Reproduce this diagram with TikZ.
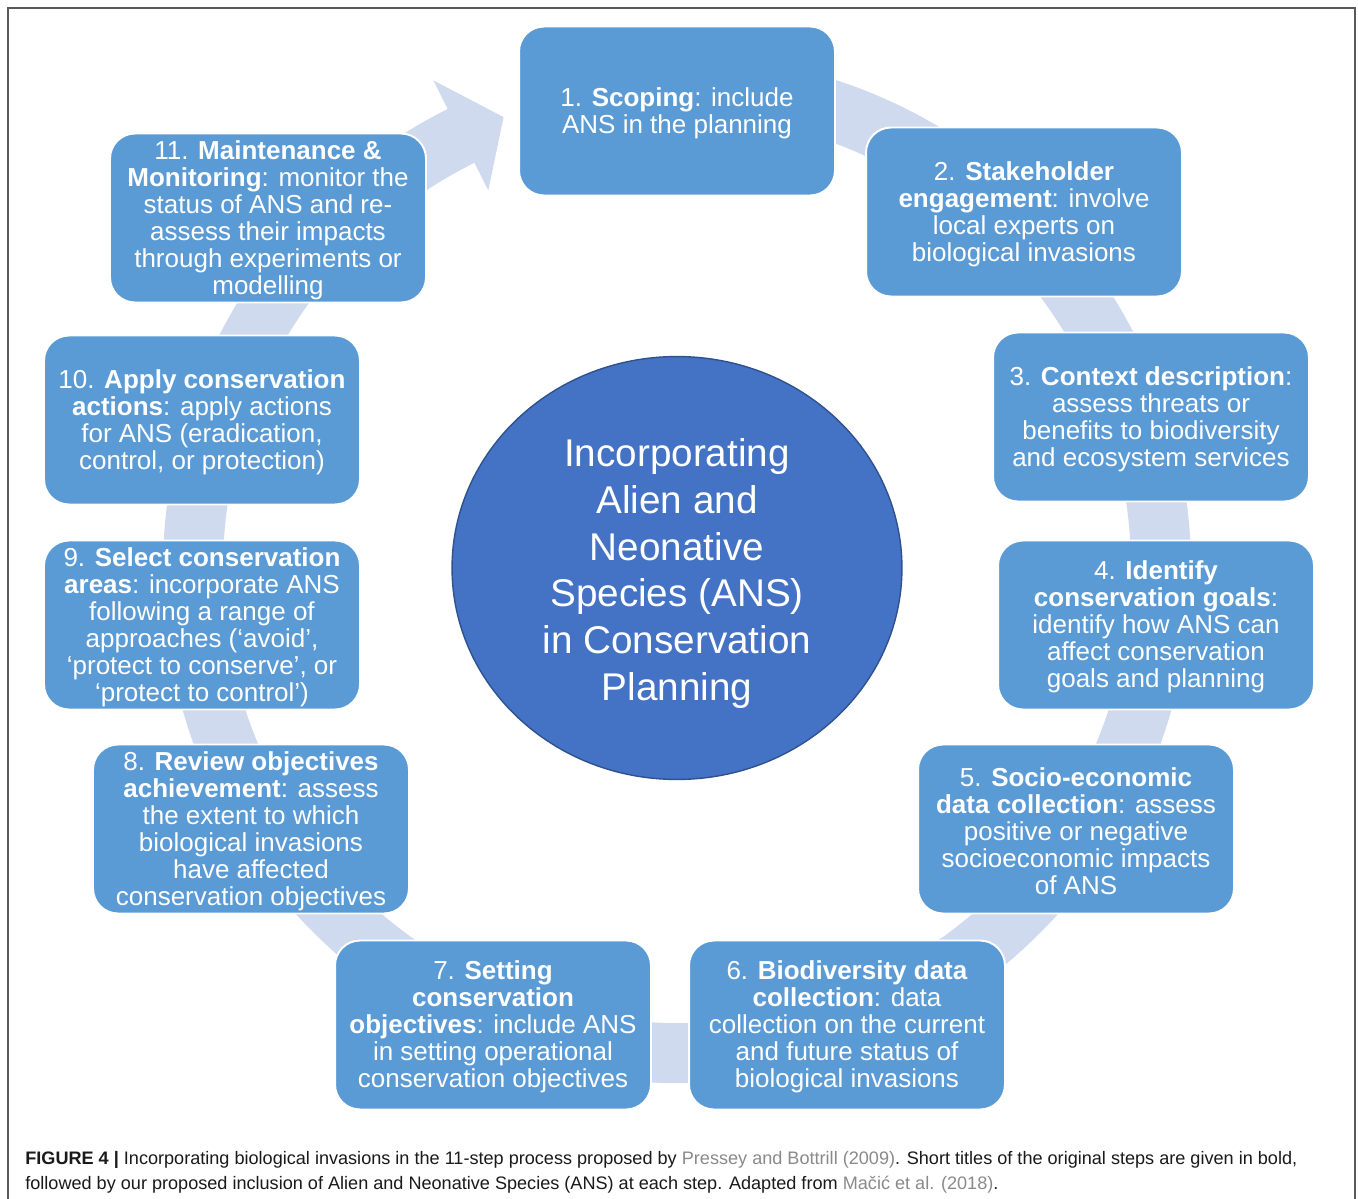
\documentclass[tikz,border=0pt]{standalone}
\usepackage{fontspec}
\setmainfont{Liberation Sans}
\usetikzlibrary{shapes.geometric,calc}
\definecolor{boxblue}{HTML}{5B9BD5}
\definecolor{hubblue}{HTML}{4472C4}
\definecolor{hubedge}{HTML}{2F528F}
\definecolor{ringblue}{HTML}{CFDAEE}
\definecolor{framegray}{HTML}{5A5A5A}
\definecolor{linkgray}{HTML}{8A8A8A}
\definecolor{captext}{HTML}{1A1A1A}
\begin{document}
\begin{tikzpicture}[x=0.02cm,y=0.02cm,
  stepbox/.style={rectangle, rounded corners=0.5cm, fill=boxblue, draw=white,
    line width=1.1pt, minimum width=6.32cm, minimum height=3.38cm, inner sep=0pt},
  steptext/.style={inner sep=0pt, yshift=-0.04cm,
    text=white, align=center, font=\fontsize{14.8}{15.4}\selectfont},
  hub/.style={ellipse, fill=hubblue, draw=hubedge, line width=0.8pt,
    minimum width=9cm, minimum height=8.46cm, inner sep=0pt},
  hubtext/.style={inner sep=0pt, yshift=-0.11cm,
    text=white, align=center, font=\fontsize{22}{26.7}\selectfont},
  captionline/.style={anchor=base west, inner sep=0pt, text=captext,
    font=\fontsize{10.3}{14}\selectfont}]

% page and frame
\useasboundingbox[fill=white] (0,0) rectangle (1358,-1199);
\draw[framegray, line width=1.2pt] (8,-1199) -- (8,-8) -- (1355,-8) -- (1355,-1199);

% circular arrow behind the steps
\coordinate (C) at (677,-569);
\fill[ringblue] ($(C)+(100:514)$) arc[start angle=100, end angle=-243.5, radius=514]
  -- ($(C)+(116.5:546)$) -- ($(C)+(111:484)$) -- ($(C)+(116.5:423)$)
  -- ($(C)+(116.5:454)$) arc[start angle=-243.5, end angle=100, radius=454] -- cycle;

% central hub
\node[hub] (hub) at (677,-568) {};
\node[hubtext] (hubt) at (hub.center) {Incorporating\\Alien and\\Neonative\\Species (ANS)\\in Conservation\\Planning};

% the eleven steps
\node[stepbox] (s1) at (677,-111) {};
\node[stepbox] (s2) at (1024,-212) {};
\node[stepbox] (s3) at (1151,-417) {};
\node[stepbox] (s4) at (1156,-625) {};
\node[stepbox] (s5) at (1076,-829) {};
\node[stepbox] (s6) at (847,-1025) {};
\node[stepbox] (s7) at (493,-1025) {};
\node[stepbox] (s8) at (251,-829) {};
\node[stepbox] (s9) at (202,-625) {};
\node[stepbox] (s10) at (202,-420) {};
\node[stepbox] (s11) at (268,-218) {};

\node[steptext] (t1) at (s1.center) {1. \textbf{Scoping}: include\\ANS in the planning};
\node[steptext] (t2) at (s2.center) {2. \textbf{Stakeholder}\\\textbf{engagement}: involve\\local experts on\\biological invasions};
\node[steptext] (t3) at (s3.center) {3. \textbf{Context description}:\\assess threats or\\benefits to biodiversity\\and ecosystem services};
\node[steptext] (t4) at (s4.center) {4. \textbf{Identify}\\\textbf{conservation goals}:\\identify how ANS can\\affect conservation\\goals and planning};
\node[steptext] (t5) at (s5.center) {5. \textbf{Socio-economic}\\\textbf{data collection}: assess\\positive or negative\\socioeconomic impacts\\of ANS};
\node[steptext] (t6) at (s6.center) {6. \textbf{Biodiversity data}\\\textbf{collection}: data\\collection on the current\\and future status of\\biological invasions};
\node[steptext] (t7) at (s7.center) {7. \textbf{Setting}\\\textbf{conservation}\\\textbf{objectives}: include ANS\\in setting operational\\conservation objectives};
\node[steptext] (t8) at (s8.center) {8. \textbf{Review objectives}\\\textbf{achievement}: assess\\the extent to which\\biological invasions\\have affected\\conservation objectives};
\node[steptext] (t9) at (s9.center) {9. \textbf{Select conservation}\\\textbf{areas}: incorporate ANS\\following a range of\\approaches (‘avoid’,\\‘protect to conserve’, or\\‘protect to control’)};
\node[steptext] (t10) at (s10.center) {10. \textbf{Apply conservation}\\\textbf{actions}: apply actions\\for ANS (eradication,\\control, or protection)};
\node[steptext] (t11) at (s11.center) {11. \textbf{Maintenance \&}\\\textbf{Monitoring}: monitor the\\status of ANS and re-\\assess their impacts\\through experiments or\\modelling};

% caption
\node[captionline] (cap1) at (25,-1164) {\textbf{FIGURE 4 |} Incorporating biological invasions in the 11-step process proposed by \textcolor{linkgray}{Pressey and Bottrill (2009)}. Short titles of the original steps are given in bold,};
\node[captionline] (cap2) at (25,-1189) {followed by our proposed inclusion of Alien and Neonative Species (ANS) at each step. Adapted from \textcolor{linkgray}{Mačić et al. (2018)}.};
\end{tikzpicture}
\end{document}
